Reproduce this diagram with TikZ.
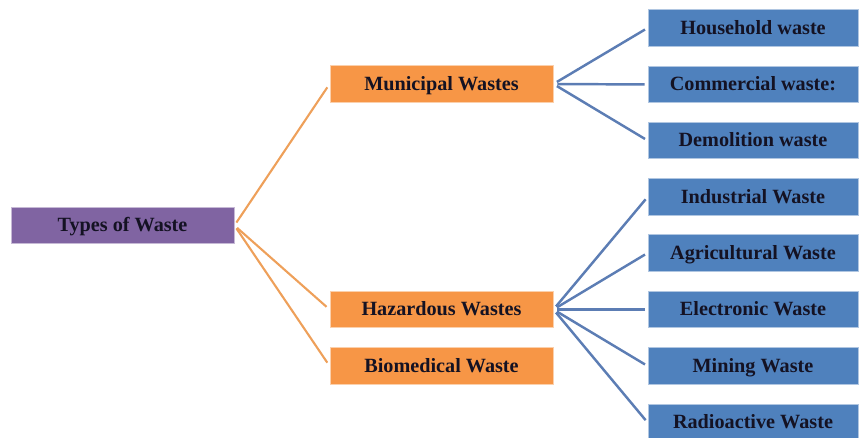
\documentclass[tikz,border=0pt]{standalone}
\usepackage{fontspec}
\setmainfont{Liberation Serif}
\usepackage{xcolor}
\usepackage{tikz}
\usetikzlibrary{positioning}
\definecolor{colorTYPE}{RGB}{128,100,162}
\definecolor{colorCAT}{RGB}{247,150,70}
\definecolor{colorSUB}{RGB}{79,129,189}
\definecolor{colorCATLINE}{RGB}{238,160,90}
\definecolor{colorSUBLINE}{RGB}{92,125,180}
\definecolor{colorTXT}{RGB}{20,18,35}
\tikzset{
   box/.style={rectangle,minimum height=0.73cm,inner sep=0pt,text=colorTXT,
      text height=1.8ex,text depth=0.3ex,
      font=\fontsize{11.5}{13}\selectfont\bfseries},
   typebox/.style={box,fill=colorTYPE,draw=colorTYPE!45!white,line width=0.5pt,minimum width=4.46cm},
   catbox/.style={box,fill=colorCAT,draw=colorCAT!45!white,line width=0.5pt,minimum width=4.46cm},
   subbox/.style={box,fill=colorSUB,draw=colorSUB!45!white,line width=0.5pt,minimum width=4.20cm},
   catline/.style={draw=colorCATLINE,line width=1.2pt,shorten <=0.07cm,shorten >=0.08cm},
   subline/.style={draw=colorSUBLINE,line width=1.4pt,shorten <=0.08cm,shorten >=0.06cm},
}

\begin{document}
\begin{tikzpicture}

\useasboundingbox (0,0) rectangle (17.2,-8.76);

% =========================================================
% root
% =========================================================

\node[typebox] (types) at (2.45,-4.51) {Types of Waste};


% =========================================================
% categories
% =========================================================

\node[catbox] (municipal)  at (8.83,-1.68) {Municipal Wastes};
\node[catbox] (hazardous)  at (8.83,-6.19) {Hazardous Wastes};
\node[catbox] (biomedical) at (8.83,-7.32) {Biomedical Waste};


% =========================================================
% municipal wastes
% =========================================================

\node[subbox] (household)  at (15.06,-0.56) {Household waste};
\node[subbox] (commercial) at (15.06,-1.69) {Commercial waste:};
\node[subbox] (demolition) at (15.06,-2.81) {Demolition waste};


% =========================================================
% hazardous wastes
% =========================================================

\node[subbox] (industrial)   at (15.06,-3.94) {Industrial Waste};
\node[subbox] (agricultural) at (15.06,-5.06) {Agricultural Waste};
\node[subbox] (electronic)   at (15.06,-6.19) {Electronic Waste};
\node[subbox] (mining)       at (15.06,-7.32) {Mining Waste};
\node[subbox] (radioactive)  at (15.06,-8.45) {Radioactive Waste};


% connectors
\draw[catline] (types.east) -- (municipal.west);
\draw[catline] (types.east) -- (hazardous.west);
\draw[catline] (types.east) -- (biomedical.west);

\draw[subline] (municipal.east) -- (household.west);
\draw[subline] (municipal.east) -- (commercial.west);
\draw[subline] (municipal.east) -- (demolition.west);

\draw[subline] (hazardous.east) -- (industrial.west);
\draw[subline] (hazardous.east) -- (agricultural.west);
\draw[subline] (hazardous.east) -- (electronic.west);
\draw[subline] (hazardous.east) -- (mining.west);
\draw[subline] (hazardous.east) -- (radioactive.west);

\end{tikzpicture}
\end{document}
